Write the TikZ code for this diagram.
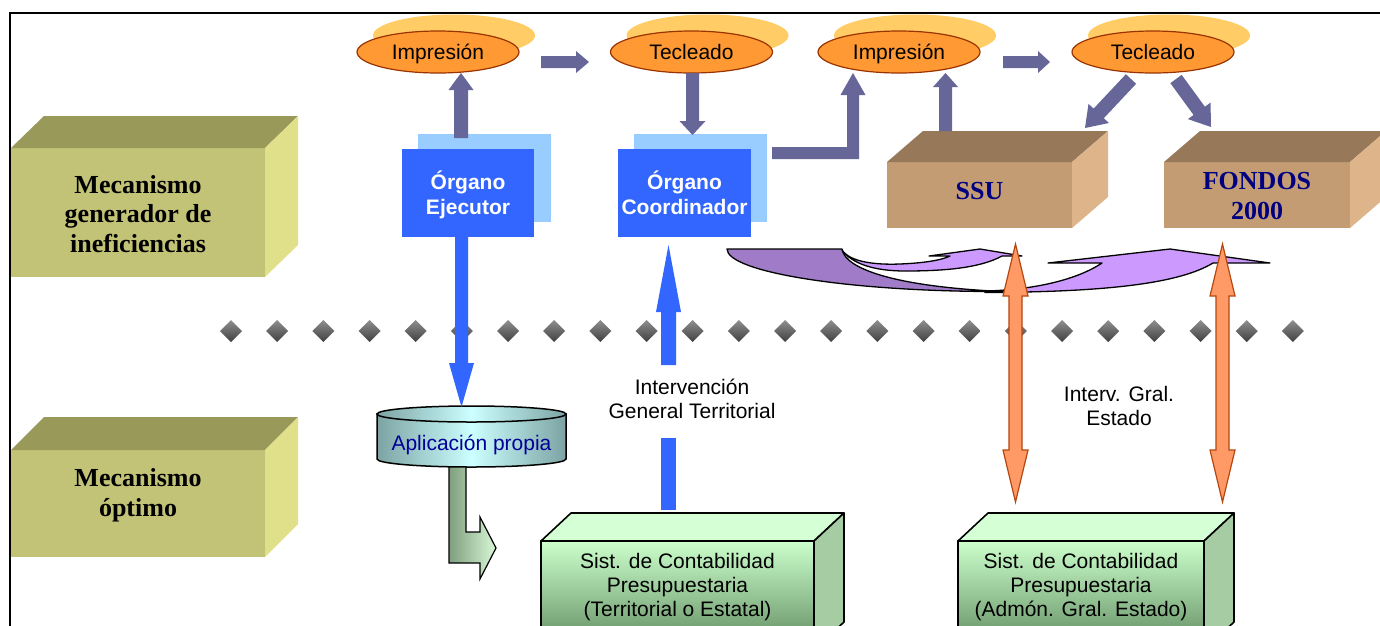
\documentclass[tikz,border=0pt]{standalone}
\usepackage{fontspec}
\setmainfont{Liberation Serif}
\setsansfont{Liberation Sans}
\usetikzlibrary{calc,shapes.geometric}
\definecolor{olfront}{HTML}{C3C377}
\definecolor{oltop}{HTML}{999959}
\definecolor{olside}{HTML}{E0E08A}
\definecolor{brfront}{HTML}{C49C74}
\definecolor{brtop}{HTML}{97795A}
\definecolor{brside}{HTML}{DEB48A}
\definecolor{ellfill}{HTML}{FF9933}
\definecolor{elldraw}{HTML}{993300}
\definecolor{ellshadow}{HTML}{FFCC66}
\definecolor{grayarr}{HTML}{666699}
\definecolor{bluebox}{HTML}{3366FF}
\definecolor{blueshadow}{HTML}{99CCFF}
\definecolor{gtop}{HTML}{D5FFD5}
\definecolor{gside}{HTML}{A6CCA3}
\definecolor{gfronttop}{HTML}{CCFFCC}
\definecolor{gfrontbot}{HTML}{5F8A5F}
\definecolor{navy}{HTML}{000080}
\definecolor{appblue}{HTML}{000099}
\definecolor{cylside}{HTML}{7DA3A3}
\definecolor{cylmid}{HTML}{CCFFFF}
\definecolor{orfill}{HTML}{FF9966}
\definecolor{ordraw}{HTML}{B5470F}
\definecolor{purdark}{HTML}{A07CC8}
\definecolor{purlight}{HTML}{CC99FF}
\definecolor{diatop}{HTML}{8F8F8F}
\definecolor{diabot}{HTML}{404040}
\definecolor{bentdark}{HTML}{7E9E7E}
\definecolor{bentlight}{HTML}{D8F8D8}

% block arrow from #2 to #3: half shaft #4, half head #5, head length #6
\newcommand\blockarr[6][]{%
  \path[#1] ($(#2)!#4!90:(#3)$) -- ($(#3)!#6!(#2)!#4!90:(#3)$) -- ($(#3)!#6!(#2)!#5!90:(#3)$) -- (#3) -- ($(#3)!#6!(#2)!#5!-90:(#3)$) -- ($(#3)!#6!(#2)!#4!-90:(#3)$) -- ($(#2)!#4!-90:(#3)$) -- cycle;}
% double-headed block arrow
\newcommand\dblockarr[6][]{%
  \path[#1] (#2) -- ($(#2)!#6!(#3)!#5!90:(#3)$) -- ($(#2)!#6!(#3)!#4!90:(#3)$) -- ($(#3)!#6!(#2)!#4!90:(#3)$) -- ($(#3)!#6!(#2)!#5!90:(#3)$) -- (#3) -- ($(#3)!#6!(#2)!#5!-90:(#3)$) -- ($(#3)!#6!(#2)!#4!-90:(#3)$) -- ($(#2)!#6!(#3)!#4!-90:(#3)$) -- ($(#2)!#6!(#3)!#5!-90:(#3)$) -- cycle;}
% top and side faces of a 3D box whose front face is node #1
\newcommand\boxthreed[5]{%
  \path[#4] (#1.north west) -- ++(#2,#3) -- ($(#1.north east)+(#2,#3)$) -- (#1.north east) -- cycle;
  \path[#5] (#1.north east) -- ++(#2,#3) -- ($(#1.south east)+(#2,#3)$) -- (#1.south east) -- cycle;}

\begin{document}
\begin{tikzpicture}[x=1pt,y=-1pt,
  arial/.style={font=\sffamily\fontsize{21}{24}\selectfont},
  arialb/.style={font=\sffamily\bfseries\fontsize{21}{24.5}\selectfont},
  serifb/.style={font=\rmfamily\bfseries\fontsize{26}{29.5}\selectfont},
  face/.style={inner sep=0pt, outer sep=0pt},
  ell/.style={ellipse, draw=elldraw, line width=1.2pt, fill=ellfill, minimum width=162pt, minimum height=42pt, inner sep=0pt, text height=17pt, text depth=3pt, arial},
  gray arrow/.style={fill=grayarr},
  blue arrow/.style={fill=bluebox},
  orange arrow/.style={fill=orfill, draw=ordraw, line width=1.2pt, line join=miter},
  purple outline/.style={draw=black, line width=1.3pt, line join=round},
  green edge/.style={draw=black, line width=1.6pt, line join=round},
]
\useasboundingbox (0,0) rectangle (1380,625);
\clip (0,0) rectangle (1380,625);
\fill[white] (0,0) rectangle (1380,625);

% frame
\draw[line width=1.6pt] (10,660) -- (10,13) -- (1400,13);

% olive boxes
\node[face, fill=olfront, minimum width=254pt, minimum height=129pt] (gen) at (138,212.5) {};
\boxthreed{gen}{33}{-32}{fill=oltop}{fill=olside}
\node[serifb, align=center] (gentext) at (138,214) {Mecanismo\\generador de\\ineficiencias};
\node[face, fill=olfront, minimum width=254pt, minimum height=107pt] (opt) at (138,503.5) {};
\boxthreed{opt}{33}{-33}{fill=oltop}{fill=olside}
\node[serifb, align=center] (opttext) at (138,495) {Mecanismo\\óptimo};

% diamond row
\foreach \i in {0,...,23}{
  \path[top color=diatop, bottom color=diabot] ({231+\i*46.17},320) -- ++(11,11) -- ++(-11,11) -- ++(-11,-11) -- cycle;}

% ellipses
\foreach \xx/\nm/\tt in {438/imp1/Impresión, 691.5/tec1/Tecleado, 899/imp2/Impresión, 1153/tec2/Tecleado}{
  \fill[ellshadow] ({\xx+16},35.5) ellipse [x radius=81pt, y radius=21pt];
  \node[ell] (\nm) at (\xx,52) {\tt};}

% blue organ boxes
\node[face, fill=blueshadow, minimum width=133pt, minimum height=88pt] (ejsh) at (484.5,178) {};
\node[face, fill=bluebox, minimum width=132pt, minimum height=88pt] (ej) at (468,193) {};
\node[text=white, arialb, align=center] (ejtext) at (468,195) {Órgano\\Ejecutor};
\node[face, fill=blueshadow, minimum width=133pt, minimum height=88pt] (cosh) at (700.5,178) {};
\node[face, fill=bluebox, minimum width=133pt, minimum height=88pt] (co) at (684.5,193) {};
\node[text=white, arialb, align=center] (cotext) at (684.5,193) {Órgano\\Coordinador};

% brown boxes
\node[face, fill=brfront, minimum width=185pt, minimum height=66pt] (ssu) at (979.5,195) {};
\boxthreed{ssu}{36}{-31}{fill=brtop}{fill=brside}
\node[serifb, text=navy] (ssutext) at (979.5,191) {SSU};
\node[face, fill=brfront, minimum width=186pt, minimum height=66pt] (fon) at (1257,195) {};
\boxthreed{fon}{36}{-31}{fill=brtop}{fill=brside}
\node[serifb, text=navy, align=center] (fontext) at (1257,196) {FONDOS\\2000};

% gray block arrows
\coordinate (g1a) at (541,62);   \coordinate (g1b) at (589,62);
\blockarr[gray arrow]{g1a}{g1b}{6pt}{11pt}{13pt}
\coordinate (g2a) at (461,138);  \coordinate (g2b) at (461,73);
\blockarr[gray arrow]{g2a}{g2b}{7pt}{12.5pt}{17pt}
\coordinate (g3a) at (692.5,73); \coordinate (g3b) at (692.5,135);
\blockarr[gray arrow]{g3a}{g3b}{6.5pt}{13pt}{14pt}
\coordinate (g4a) at (772,153);
\fill[gray arrow] (g4a) ++(0,-6) -- ++(75,0) -- ++(0,-52) -- ++(-6.5,0) -- ++(12.5,-22) -- ++(12.5,22) -- ++(-6.5,0) -- ++(0,64) -- ++(-87,0) -- cycle;
\coordinate (g5a) at (945.5,131); \coordinate (g5b) at (945.5,73);
\blockarr[gray arrow]{g5a}{g5b}{6.5pt}{12.5pt}{14pt}
\coordinate (g6a) at (1003,62);  \coordinate (g6b) at (1050,62);
\blockarr[gray arrow]{g6a}{g6b}{6pt}{11pt}{12pt}
\coordinate (g7a) at (1131,79);  \coordinate (g7b) at (1085,128);
\blockarr[gray arrow]{g7a}{g7b}{7pt}{14pt}{20pt}
\coordinate (g8a) at (1176,79);  \coordinate (g8b) at (1211,127);
\blockarr[gray arrow]{g8a}{g8b}{7pt}{14pt}{20pt}

% purple curved arrows
\path[fill=purlight, purple outline] (985,291) .. controls (1030,290) and (1075,281) .. (1102,263) -- (1048,263) -- (1170,249) -- (1270,263) -- (1213,263) .. controls (1180,283) and (1110,292) .. (985,292.5) -- cycle;
\path[fill=purdark, purple outline] (727,249) -- (842,249) .. controls (845,270) and (900,287) .. (1003,291.5) .. controls (849,292) and (727,272) .. (727,249) -- cycle;
\path[fill=purlight, purple outline] (842,250) .. controls (850,262) and (875,265) .. (900,264) .. controls (925,263) and (942,260) .. (950,256) -- (929,256) -- (980,249) -- (1022,256) -- (1002,256) .. controls (980,268) and (945,271) .. (905,271) .. controls (875,271) and (852,264) .. (842,250) -- cycle;

% cylinder
\path[left color=cylside, right color=cylside, middle color=cylmid, draw=black, line width=1.5pt] (377,414) -- (377,459) arc[start angle=180, end angle=360, x radius=94.5pt, y radius=8pt] -- (566,414) -- cycle;
\path[left color=cylside, right color=cylside, middle color=cylmid, draw=black, line width=1.5pt] (471.5,414) ellipse [x radius=94.5pt, y radius=8pt];
\node[arial, text=appblue] (app) at (471.5,445) {Aplicación propia};

% blue arrows
\coordinate (b1a) at (461.5,237); \coordinate (b1b) at (461.5,407);
\blockarr[blue arrow]{b1a}{b1b}{6.5pt}{12.5pt}{44pt}
\coordinate (b2s) at (668.5,510); \coordinate (b2m) at (668.5,438);
\draw[bluebox, line width=15pt] (b2s) -- (b2m);
\coordinate (b2c) at (668.5,365); \coordinate (b2d) at (668.5,245);
\blockarr[blue arrow]{b2c}{b2d}{7.5pt}{12.5pt}{67pt}
\node[arial, align=center] (igt) at (692,399) {Intervención\\General Territorial};

% orange double arrows
\coordinate (o1a) at (1015.5,244); \coordinate (o1b) at (1015.5,502);
\dblockarr[orange arrow]{o1a}{o1b}{6.5pt}{12.5pt}{52pt}
\coordinate (o2a) at (1222.5,244); \coordinate (o2b) at (1222.5,502);
\dblockarr[orange arrow]{o2a}{o2b}{6.5pt}{12.5pt}{52pt}
\node[arial, align=center] (ige) at (1119,406) {Interv. Gral.\\Estado};

% green boxes
\node[face, top color=gfronttop, bottom color=gfrontbot, green edge, minimum width=273pt, minimum height=109pt] (sa) at (677.5,595.5) {};
\boxthreed{sa}{30}{-28}{fill=gtop, green edge}{fill=gside, green edge}
\node[arial, align=center] (satext) at (677.5,587.5) {Sist. de Contabilidad\\Presupuestaria\\(Territorial o Estatal)};
\node[face, top color=gfronttop, bottom color=gfrontbot, green edge, minimum width=246pt, minimum height=109pt] (sb) at (1081,595.5) {};
\boxthreed{sb}{30}{-28}{fill=gtop, green edge}{fill=gside, green edge}
\node[arial, align=center] (sbtext) at (1081,587.5) {Sist. de Contabilidad\\Presupuestaria\\(Admón. Gral. Estado)};

% bent green arrow from application to accounting system
\coordinate (bent) at (457.5,467);
\path[left color=bentdark, right color=bentlight, draw=black, line width=1.2pt, line join=miter] (bent) ++(-8.5,0) -- ++(17,0) -- ++(0,65) -- ++(14,0) -- ++(0,-15) -- ++(16,31) -- ++(-16,31) -- ++(0,-16) -- ++(-31,0) -- cycle;
\end{tikzpicture}
\end{document}
